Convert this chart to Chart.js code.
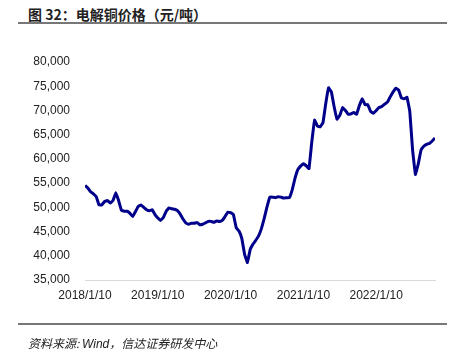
<!DOCTYPE html>
<html>
<head>
<meta charset="utf-8">
<script src="https://cdn.jsdelivr.net/npm/chart.js@4.4.1/dist/chart.umd.min.js"></script>
<style>
  html, body { margin: 0; padding: 0; background: #fff; }
  #wrap { position: relative; width: 463px; height: 359px; overflow: hidden; }
  .title { position: absolute; left: 28px; top: 4px; font: bold 14px "Noto Sans CJK SC", sans-serif; color: #222; white-space: nowrap; }
  .rule { position: absolute; left: 18px; width: 429px; height: 0; border-top: 2px solid #777; }
  .source { position: absolute; left: 28px; top: 334px; font: italic 12px "Noto Sans CJK SC", "Liberation Sans", sans-serif; color: #222; white-space: nowrap; }
  #chartBox { position: absolute; left: 0; top: 0; width: 463px; height: 359px; }
</style>
</head>
<body>
<div id="wrap">
  <div class="title">图 32：电解铜价格（元/吨）</div>
  <div class="rule" style="top:22px"></div>
  <div id="chartBox"><canvas id="copperChart" width="463" height="359"></canvas></div>
  <div class="rule" style="top:323px"></div>
  <div class="source">资料来源: <span style="font-family:'Liberation Sans',sans-serif">Wind</span>，信达证券研发中心</div>
</div>
<script>
// biweekly copper price (yuan/ton), starting 2018/1/10
const copperPrice = [
  54500, 54000, 53200, 52800, 52200, 50500, 50500, 51200, 51400, 50900,
  51400, 53000, 51400, 49400, 49200, 49200, 48800, 48100, 49100, 50200,
  50500, 50000, 49500, 49300, 49500, 48500, 47800, 47300, 47900, 49200,
  49900, 49700, 49600, 49300, 48600, 47600, 46800, 46500, 46700, 46700,
  46900, 46400, 46500, 46800, 47100, 47100, 46900, 47200, 47100, 47300,
  48100, 49000, 48900, 48500, 45800, 45100, 43600, 40300, 38600, 41300,
  42400, 43200, 44100, 45600, 47700, 50100, 52100, 52100, 52000, 52200,
  52100, 51900, 52000, 52000, 53600, 56000, 57800, 58500, 59000, 58600,
  58000, 63500, 68000, 66800, 66600, 67500, 71500, 74700, 73800, 70700,
  68200, 69000, 70600, 70000, 69200, 69300, 69600, 69200, 71000, 72400,
  71200, 71200, 69800, 69400, 70000, 70600, 70800, 71300, 71700, 72800,
  73800, 74600, 74200, 72600, 72400, 72700, 69800, 61800, 56800, 58900,
  61800, 62600, 63000, 63200, 63700, 64300
];
const xTickIndex = [0, 26, 52, 78, 104];
const xTickLabels = ['2018/1/10', '2019/1/10', '2020/1/10', '2021/1/10', '2022/1/10'];
const yMin = 35000, yMax = 80000, yStep = 5000;

const points = copperPrice.map((v, i) => ({ x: i, y: v }));

new Chart(document.getElementById('copperChart'), {
  type: 'line',
  data: {
    datasets: [{
      data: points,
      borderColor: '#00008b',
      borderWidth: 3,
      pointRadius: 0,
      tension: 0.05,
      fill: false
    }]
  },
  options: {
    responsive: false,
    animation: false,
    layout: { padding: { left: 0, top: 62, right: 28, bottom: 49 } },
    plugins: { legend: { display: false }, tooltip: { enabled: false } },
    scales: {
      x: {
        type: 'linear',
        min: 0,
        max: copperPrice.length - 1,
        afterBuildTicks: s => { s.ticks = xTickIndex.map(v => ({ value: v })); },
        afterFit: s => { s.height = 30; },
        grid: { display: false, drawTicks: false },
        border: { display: true, color: '#d9d9d9', width: 1 },
        ticks: {
          autoSkip: false,
          maxRotation: 0,
          padding: 8,
          color: '#222',
          font: { family: '"Liberation Sans", Arial, sans-serif', size: 12 },
          callback: v => xTickLabels[xTickIndex.indexOf(v)] || ''
        }
      },
      y: {
        min: yMin,
        max: yMax,
        afterFit: s => { s.width = 85; },
        grid: { display: false, drawTicks: false },
        border: { display: false },
        ticks: {
          stepSize: yStep,
          padding: 15,
          color: '#222',
          font: { family: '"Liberation Sans", Arial, sans-serif', size: 12 },
          callback: v => v.toLocaleString('en-US')
        }
      }
    }
  }
});
</script>
</body>
</html>
